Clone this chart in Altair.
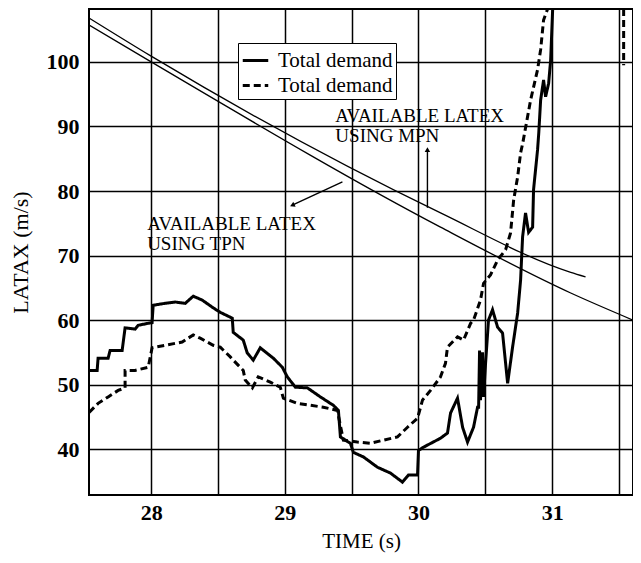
import altair as alt
import pandas as pd

# ---- data ----
solid_x = [27.536, 27.596, 27.603, 27.678, 27.693, 27.783, 27.805, 27.880, 27.903, 27.978, 28.007,
           28.015, 28.105, 28.180, 28.255, 28.315, 28.382, 28.464, 28.517, 28.607, 28.614, 28.689,
           28.719, 28.764, 28.816, 28.914, 28.981, 29.019, 29.079, 29.169, 29.266, 29.363, 29.401,
           29.416, 29.491, 29.513, 29.588, 29.693, 29.790, 29.880, 29.925, 29.993, 30.000, 30.037,
           30.165, 30.217, 30.240, 30.292, 30.330, 30.367, 30.412, 30.442, 30.450, 30.457, 30.464,
           30.479, 30.487, 30.502, 30.524, 30.554, 30.592, 30.629, 30.652, 30.667, 30.704, 30.742,
           30.764, 30.779, 30.801, 30.824, 30.854, 30.861, 30.891, 30.900, 30.914, 30.936, 30.951,
           30.974, 30.989, 31.004]
solid_y = [52.2, 52.2, 54.1, 54.1, 55.3, 55.3, 58.8, 58.6, 59.2, 59.5, 59.6,
           62.3, 62.6, 62.8, 62.6, 63.7, 63.1, 61.9, 61.2, 60.3, 58.1, 56.9,
           54.9, 53.8, 55.7, 54.1, 52.7, 51.2, 49.6, 49.5, 48.1, 46.8, 46.0,
           41.9, 40.9, 39.5, 38.8, 37.2, 36.3, 34.9, 36.0, 36.0, 39.8, 40.3,
           41.7, 42.5, 45.6, 47.9, 43.4, 41.1, 43.4, 46.5, 46.5, 55.3, 47.6,
           55.0, 48.1, 53.3, 60.0, 61.6, 58.9, 58.0, 53.3, 50.2, 55.8, 61.1,
           66.2, 72.9, 76.6, 73.6, 74.4, 80.2, 86.4, 89.0, 94.1, 97.2, 94.6,
           96.7, 100.3, 108.2]

dashed_x = [27.536, 27.603, 27.678, 27.753, 27.805, 27.805, 27.880, 27.978, 28.007, 28.105, 28.232,
            28.315, 28.367, 28.464, 28.517, 28.592, 28.614, 28.689, 28.704, 28.757, 28.801, 28.891,
            28.966, 28.989, 29.094, 29.191, 29.288, 29.393, 29.438, 29.543, 29.640, 29.738, 29.843,
            29.918, 29.993, 30.030, 30.090, 30.165, 30.202, 30.217, 30.292, 30.337, 30.390, 30.412,
            30.464, 30.487, 30.539, 30.592, 30.652, 30.689, 30.712, 30.742, 30.764, 30.780, 30.839,
            30.891, 30.914, 30.936, 30.966]
dashed_y = [45.7, 47.1, 48.1, 49.1, 49.5, 52.2, 52.2, 52.7, 55.7, 56.1, 56.6,
            57.7, 57.2, 56.1, 55.8, 54.3, 53.8, 52.2, 50.7, 49.5, 51.2, 50.4,
            49.6, 47.9, 47.1, 46.8, 46.5, 46.0, 41.4, 41.1, 40.9, 41.4, 41.9,
            43.4, 44.8, 47.6, 49.1, 51.2, 53.3, 55.8, 57.4, 56.9, 59.5, 60.0,
            63.1, 65.7, 67.0, 69.3, 70.9, 73.5, 78.6, 82.2, 85.9, 87.4, 94.1,
            98.8, 101.9, 106.5, 108.2]
dashed2_x = [31.535, 31.535]
dashed2_y = [108.2, 99.5]

mpn_x = [27.536, 28.0, 30.165, 31.139, 31.25]
mpn_y = [106.8, 100.9, 76.6, 67.4, 66.7]
tpn_x = [27.536, 28.0, 30.165, 31.139, 31.605]
tpn_y = [105.7, 100.0, 74.4, 64.2, 60.0]

ann_text = ["AVAILABLE LATEX", "USING MPN", "AVAILABLE LATEX", "USING TPN"]
ann_x = [29.378, 29.378, 27.97, 27.97]
ann_y = [90.7, 87.6, 73.95, 70.85]

arrow_x = [30.067, 29.431]
arrow_y = [77.4, 81.4]
arrow_x2 = [30.067, 29.056]
arrow_y2 = [86.4, 77.8]
head_angle = [0, 245]

XDOM = [27.535, 31.605]
YDOM = [32.9, 108.2]
FONT = "Liberation Serif"

demand = pd.DataFrame(
    [{"x": a, "y": b, "style": "A", "seg": "A"} for a, b in zip(solid_x, solid_y)]
    + [{"x": a, "y": b, "style": "B", "seg": "B"} for a, b in zip(dashed_x, dashed_y)]
    + [{"x": a, "y": b, "style": "B", "seg": "B2"} for a, b in zip(dashed2_x, dashed2_y)]
)
thin = pd.DataFrame(
    [{"x": a, "y": b, "line": "MPN"} for a, b in zip(mpn_x, mpn_y)]
    + [{"x": a, "y": b, "line": "TPN"} for a, b in zip(tpn_x, tpn_y)]
)
ann = pd.DataFrame({"x": ann_x, "y": ann_y, "t": ann_text})
arrows = pd.DataFrame({"x": arrow_x, "y": arrow_y, "x2": arrow_x2, "y2": arrow_y2, "a": head_angle})

xs = alt.Scale(domain=XDOM, nice=False, zero=False)
ys = alt.Scale(domain=YDOM, nice=False, zero=False)

xaxis = alt.Axis(values=[28, 28.5, 29, 29.5, 30, 30.5, 31, 31.5],
                 labelExpr="datum.value % 1 == 0 ? format(datum.value, 'd') : ''",
                 title="TIME (s)", grid=True, ticks=False, domain=False,
                 labelPadding=7, titlePadding=7, titleFontSize=21)
yaxis = alt.Axis(values=[40, 50, 60, 70, 80, 90, 100], title="LATAX (m/s)",
                 grid=True, ticks=False, domain=False, labelPadding=10, titlePadding=14)

thin_layer = alt.Chart(thin).mark_line(color="black", strokeWidth=1.3, clip=True,
                                       interpolate="monotone").encode(
    x=alt.X("x:Q", scale=xs, axis=xaxis),
    y=alt.Y("y:Q", scale=ys, axis=yaxis),
    detail="line:N",
)

demand_layer = alt.Chart(demand).mark_line(color="black", strokeWidth=3, clip=True).encode(
    x=alt.X("x:Q", scale=xs),
    y=alt.Y("y:Q", scale=ys),
    detail="seg:N",
    strokeDash=alt.StrokeDash(
        "style:N",
        scale=alt.Scale(domain=["A", "B"], range=[[1, 0], [7, 4]]),
        legend=alt.Legend(title=None, orient="none", legendX=149, legendY=34,
                          labelExpr="'Total demand'", labelFont=FONT, labelFontSize=21,
                          labelColor="black", symbolType="stroke", symbolStrokeColor="black",
                          symbolStrokeWidth=3, symbolSize=650, padding=3, rowPadding=0,
                          strokeColor="black", fillColor="white", labelOffset=8),
    ),
    order="x:Q",
)

text_layer = alt.Chart(ann).mark_text(align="left", baseline="alphabetic", font=FONT,
                                      fontSize=19, color="black").encode(
    x=alt.X("x:Q", scale=xs), y=alt.Y("y:Q", scale=ys), text="t:N")

arrow_layer = alt.Chart(arrows).mark_rule(color="black", strokeWidth=1.4).encode(
    x=alt.X("x:Q", scale=xs), y=alt.Y("y:Q", scale=ys),
    x2="x2:Q", y2="y2:Q")

head_layer = alt.Chart(arrows).mark_point(shape="triangle-up", filled=True, color="black",
                                          size=30, opacity=1).encode(
    x=alt.X("x2:Q", scale=xs), y=alt.Y("y2:Q", scale=ys),
    angle=alt.Angle("a:Q", scale=None))

chart = alt.layer(thin_layer, demand_layer, text_layer, arrow_layer, head_layer).properties(
    width=544, height=486,
    background="white",
    autosize=alt.AutoSizeParams(type="none"),
    padding={"left": 81, "top": 1, "right": 0, "bottom": 60},
).configure_view(stroke="black", strokeWidth=2).configure_axis(
    labelFont=FONT, labelFontSize=22, labelFontWeight="bold", labelColor="black",
    titleFont=FONT, titleFontSize=22, titleFontWeight="normal", titleColor="black",
    gridColor="black", gridWidth=1.5, gridOpacity=1,
)

chart.save("out.html", embed_options={"renderer": "svg", "actions": False})
